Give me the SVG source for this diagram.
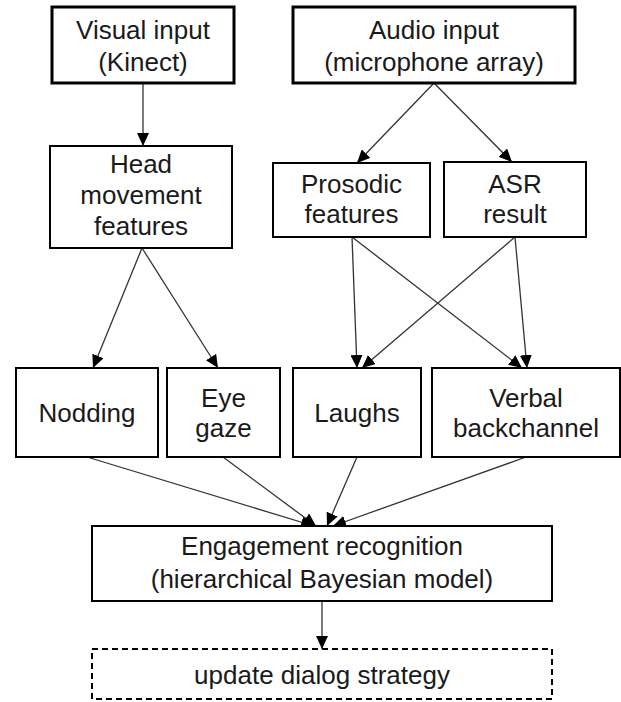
<svg xmlns="http://www.w3.org/2000/svg" width="621" height="702" viewBox="0 0 621 702">
  <style>
    .box { fill: #ffffff; stroke: #000000; stroke-width: 2; }
    .thick { stroke-width: 3; }
    .dash { stroke-dasharray: 6 4; }
    .lbl { font-family: "Liberation Sans", Arial, sans-serif; font-size: 26px; fill: #1a1a1a; text-anchor: middle; }
    .edge { stroke: #333333; stroke-width: 1.3; fill: none; marker-end: url(#arr); }
  </style>
  <defs>
    <marker id="arr" markerUnits="userSpaceOnUse" markerWidth="14" markerHeight="12" refX="13" refY="6" orient="auto">
      <path d="M0,0 L13,6 L0,12 z" fill="#000000"/>
    </marker>
  </defs>
  <rect width="621" height="702" fill="#ffffff"/>

  <g id="connectors">
    <line class="edge" x1="143" y1="83" x2="143" y2="146"/>
    <line class="edge" x1="434" y1="83" x2="357" y2="163"/>
    <line class="edge" x1="434" y1="83" x2="512" y2="162"/>
    <line class="edge" x1="142" y1="248" x2="93" y2="368"/>
    <line class="edge" x1="142" y1="248" x2="218" y2="368"/>
    <line class="edge" x1="352" y1="237" x2="357" y2="368"/>
    <line class="edge" x1="352" y1="237" x2="522" y2="368"/>
    <line class="edge" x1="515" y1="237" x2="362" y2="368"/>
    <line class="edge" x1="515" y1="237" x2="527" y2="368"/>
    <line class="edge" x1="87" y1="457" x2="314" y2="526"/>
    <line class="edge" x1="223" y1="457" x2="316" y2="526"/>
    <line class="edge" x1="357" y1="457" x2="327" y2="526"/>
    <line class="edge" x1="526" y1="457" x2="333" y2="526"/>
    <line class="edge" x1="322" y1="601" x2="322" y2="649"/>
  </g>

  <g id="visual">
    <rect class="box thick" x="52" y="7" width="182" height="76"/>
    <text class="lbl" x="143" y="39">Visual input</text>
    <text class="lbl" x="143" y="71">(Kinect)</text>
  </g>
  <g id="audio">
    <rect class="box thick" x="293" y="7" width="282" height="76"/>
    <text class="lbl" x="434" y="39">Audio input</text>
    <text class="lbl" x="434" y="71">(microphone array)</text>
  </g>
  <g id="head">
    <rect class="box" x="50" y="146" width="182" height="102"/>
    <text class="lbl" x="141" y="173">Head</text>
    <text class="lbl" x="141" y="204">movement</text>
    <text class="lbl" x="141" y="235">features</text>
  </g>
  <g id="prosodic">
    <rect class="box" x="273" y="163" width="157" height="74"/>
    <text class="lbl" x="351.5" y="193">Prosodic</text>
    <text class="lbl" x="351.5" y="223">features</text>
  </g>
  <g id="asr">
    <rect class="box" x="444" y="162" width="142" height="75"/>
    <text class="lbl" x="515" y="193">ASR</text>
    <text class="lbl" x="515" y="223">result</text>
  </g>
  <g id="nodding">
    <rect class="box" x="16" y="368" width="142" height="89"/>
    <text class="lbl" x="87" y="422">Nodding</text>
  </g>
  <g id="eyegaze">
    <rect class="box" x="167" y="368" width="113" height="89"/>
    <text class="lbl" x="223.5" y="407">Eye</text>
    <text class="lbl" x="223.5" y="437">gaze</text>
  </g>
  <g id="laughs">
    <rect class="box" x="293" y="368" width="128" height="89"/>
    <text class="lbl" x="357" y="422">Laughs</text>
  </g>
  <g id="verbal">
    <rect class="box" x="432" y="368" width="188" height="89"/>
    <text class="lbl" x="526" y="407">Verbal</text>
    <text class="lbl" x="526" y="437">backchannel</text>
  </g>
  <g id="engagement">
    <rect class="box" x="92" y="526" width="460" height="75"/>
    <text class="lbl" x="322" y="555">Engagement recognition</text>
    <text class="lbl" x="322" y="588">(hierarchical Bayesian model)</text>
  </g>
  <g id="update">
    <rect class="box dash" x="92" y="649" width="460" height="50"/>
    <text class="lbl" x="322" y="684">update dialog strategy</text>
  </g>
</svg>
